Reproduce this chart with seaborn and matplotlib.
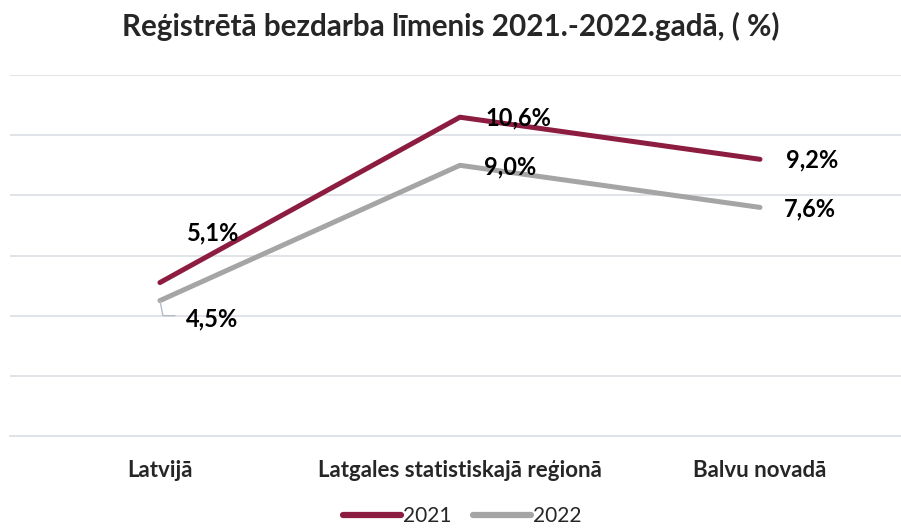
import pandas as pd
import numpy as np
import matplotlib.pyplot as plt
import seaborn as sns

categories = ['Latvijā', 'Latgales statistiskajā reģionā', 'Balvu novadā']
rate_2021 = [5.1, 10.6, 9.2]
rate_2022 = [4.5, 9.0, 7.6]
years = ['2021', '2022']
title = 'Reģistrētā bezdarba līmenis 2021.-2022.gadā, ( %)'

df = pd.DataFrame({
    'region': categories * 2,
    'rate': rate_2021 + rate_2022,
    'year': [years[0]] * 3 + [years[1]] * 3,
})

sns.set_style('white')
plt.rcParams['font.family'] = ['Lato', 'DejaVu Sans']

fig = plt.figure(figsize=(9.01, 5.29), dpi=100)
ax = fig.add_axes([0.011, 0.176, 0.989, 0.682])

palette = {'2021': '#8C1D40', '2022': '#A5A5A5'}
sns.lineplot(data=df, x='region', y='rate', hue='year', palette=palette,
             sort=False, linewidth=3.6, ax=ax, legend=False)
for line in ax.lines:
    line.set_solid_capstyle('round')

ax.set_yticks(np.arange(0, 13, 2))
ax.yaxis.grid(True, color='#DDE1E6', linewidth=1.3)
ax.set_axisbelow(True)
ax.tick_params(axis='y', left=False, labelleft=False)
for s in ['top', 'right', 'left']:
    ax.spines[s].set_visible(False)
ax.spines['bottom'].set_color('#DDE1E6')
ax.spines['bottom'].set_linewidth(1.3)

ax.set_xticks(range(len(categories)))
ax.set_xticklabels(categories, fontsize=16, fontweight='bold')
ax.tick_params(axis='x', which='major', length=0, pad=17)
ax.set_xticks([-0.5, 0.5, 1.5, 2.5], minor=True)
ax.tick_params(axis='x', which='minor', length=5, color='#DDE1E6', width=1.3)
ax.set_xlabel('')
ax.set_ylabel('')
# limits after the ticks, otherwise set_xticks stretches them
ax.set_ylim(0, 12)
ax.set_xlim(-0.5, 2.47)

def pct(v):
    return f'{v:.1f}%'.replace('.', ',')

lab = dict(fontsize=17, fontweight='bold', color='black')
ax.annotate(pct(rate_2021[0]), (0, rate_2021[0]), xytext=(53, 50),
            textcoords='offset pixels', ha='center', va='center', **lab)
ax.annotate(pct(rate_2022[0]), (0, rate_2022[0]), xytext=(52, -18),
            textcoords='offset pixels', ha='center', va='center', **lab)
ax.plot([0.0, 0.01, 0.05], [rate_2022[0], 4.0, 4.0], color='#B4BCC8', linewidth=1)
for i in (1, 2):
    ax.annotate(pct(rate_2021[i]), (i, rate_2021[i]), xytext=(26, -1),
                textcoords='offset pixels', ha='left', va='center', **lab)
    ax.annotate(pct(rate_2022[i]), (i, rate_2022[i]), xytext=(24, -2),
                textcoords='offset pixels', ha='left', va='center', **lab)

fig.suptitle(title, fontsize=21.3, fontweight='bold', y=0.977)

handles = [plt.Line2D([], [], color=palette[y], linewidth=4.5, solid_capstyle='round') for y in years]
fig.legend(handles, years, loc='lower center', ncol=2, frameon=False, fontsize=15,
           bbox_to_anchor=(0.513, -0.03), handlelength=2.8, handletextpad=0.1, columnspacing=1.0)

fig.savefig('out.png', dpi=100)
